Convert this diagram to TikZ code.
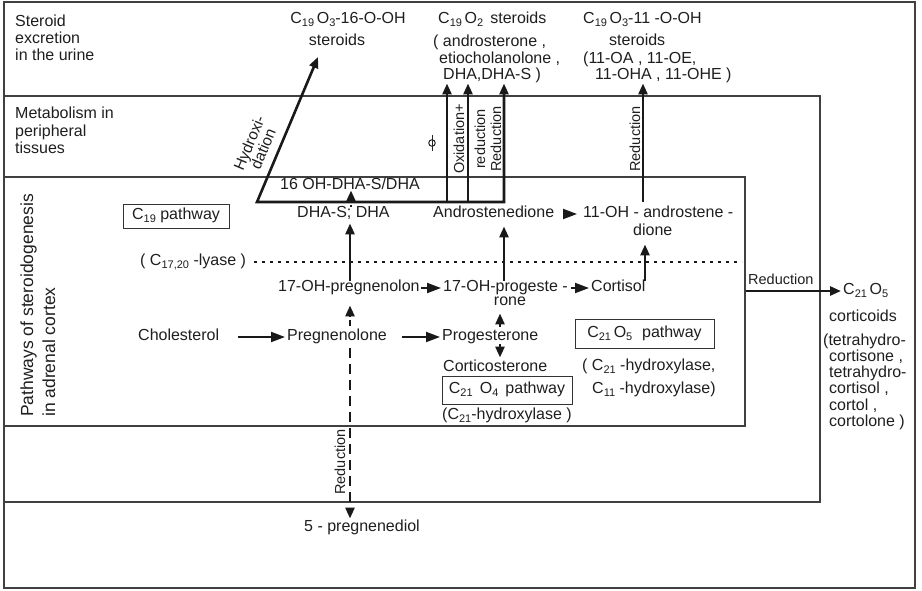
\documentclass[tikz,border=0pt]{standalone}
\usepackage{fontspec}
\setmainfont{Liberation Sans}
\usetikzlibrary{arrows.meta}
\newcommand{\lowsub}[1]{\raisebox{-3pt}{\fontsize{11}{11}\selectfont #1}}
\begin{document}
\begin{tikzpicture}[x=1pt,y=-1pt,
  bt/.style={inner sep=0pt, text=black!88, font=\fontsize{16}{17}\selectfont},
  tx/.style={bt, text height=11pt, text depth=3.5pt, anchor=west},
  pbox/.style={bt, draw=black!80, line width=1pt, text height=11pt, text depth=3.5pt},
  rlab/.style={bt, font=\fontsize{14.5}{15}\selectfont, rotate=90, anchor=base},
  fr/.style={draw=black!75, line width=1.1pt},
  thk/.style={draw=black!90, line width=2.6pt},
  arr/.style={thk, -{Triangle[length=11pt,width=9pt]}},
  hd/.style={draw=black!90, line width=2pt, -{Triangle[length=14pt,width=10pt]}},
  dsh/.style={arr, dash pattern=on 10pt off 6pt},
  dotl/.style={draw=black!90, line width=2.6pt, dash pattern=on 2.6pt off 5.4pt},
]
\fill[white] (0,0) rectangle (922,590);
\useasboundingbox (0,0) rectangle (922,590);
% frames
\draw[fr] (4,2) rectangle (915,588);
\draw[fr] (4,96) -- (820,96) -- (820,502) -- (4,502);
\draw[fr] (4,177) -- (745,177) -- (745,426) -- (4,426);

% band labels
\node[tx] (u1) at (15,23) {Steroid};
\node[tx] (u2) at (15,40) {excretion};
\node[tx] (u3) at (15,57) {in the urine};
\node[tx] (m1) at (15,115) {Metabolism in};
\node[tx] (m2) at (15,133) {peripheral};
\node[tx] (m3) at (15,150) {tissues};
\node[bt, font=\fontsize{17.5}{18}\selectfont, rotate=90, anchor=base west] (pw1) at (33,417) {Pathways of steroidogenesis};
\node[bt, font=\fontsize{17.5}{18}\selectfont, rotate=90, anchor=base west] (pw2) at (55,417) {in adrenal cortex};

% top products
\node[tx, anchor=center] (h16) at (348,20) {C\lowsub{19}\,O\lowsub{3}-16-O-OH};
\node[tx, anchor=center] (s16) at (337,42) {steroids};
\node[tx] (c2t) at (438,20) {C\lowsub{19}\,O\lowsub{2}\, steroids};
\node[tx] (andr) at (433,43) {( androsterone ,};
\node[tx] (etio) at (439,60) {etiocholanolone ,};
\node[tx] (dhal) at (443,76) {DHA,DHA-S )};
\node[tx] (c11t) at (583,20) {C\lowsub{19}\,O\lowsub{3}-11 -O-OH};
\node[tx] (c11s) at (609,42) {steroids};
\node[tx] (c11a) at (583,60) {(11-OA , 11-OE,};
\node[tx] (c11b) at (595,76) {11-OHA , 11-OHE )};

% adrenal contents
\node[tx] (oh16) at (280,186) {16 OH-DHA-S/DHA};
\node[tx] (dhas) at (297,214) {DHA-S; DHA};
\node[pbox, minimum width=106pt, minimum height=24pt] (c19p) at (176,216) {C\lowsub{19} pathway};
\node[tx] (andro) at (433,214) {Androstenedione};
\node[tx] (ohan) at (583,214) {11-OH - androstene -};
\node[tx] (dione) at (633,232) {dione};
\node[tx] (lyase) at (140,262) {( C\lowsub{17,20} -lyase )};
\node[tx] (p17) at (278,288) {17-OH-pregnenolon};
\node[tx] (g17) at (443,288) {17-OH-progeste -};
\node[tx, anchor=center] (rone) at (510,302) {rone};
\node[tx] (cort) at (591,288) {Cortisol};
\node[tx] (chol) at (138,337) {Cholesterol};
\node[tx] (preg) at (287,337) {Pregnenolone};
\node[tx] (prog) at (442,337) {Progesterone};
\node[tx] (ccs) at (443,368) {Corticosterone};
\node[pbox, minimum width=130pt, minimum height=28pt] (c214) at (507,390) {C\lowsub{21}\, O\lowsub{4}\, pathway};
\node[tx] (h21a) at (442,416) {(C\lowsub{21}-hydroxylase )};
\node[pbox, minimum width=139pt, minimum height=29pt] (c215) at (644.5,333.5) {C\lowsub{21}\,O\lowsub{5}\,\, pathway};
\node[tx] (h21b) at (582,367) {( C\lowsub{21} -hydroxylase,};
\node[tx] (h11) at (592,390) {C\lowsub{11} -hydroxylase)};

% right column
\node[tx, font=\fontsize{14.5}{15}\selectfont] (redl) at (748,281) {Reduction};
\node[tx] (c21o5) at (843,291) {C\lowsub{21}\,O\lowsub{5}};
\node[tx] (ctc) at (829,318) {corticoids};
\node[tx] (r1) at (823,342) {(tetrahydro-};
\node[tx] (r2) at (829,358) {cortisone ,};
\node[tx] (r3) at (829,374) {tetrahydro-};
\node[tx] (r4) at (829,390) {cortisol ,};
\node[tx] (r5) at (829,407) {cortol ,};
\node[tx] (r6) at (829,423) {cortolone )};

% bottom
\node[tx, anchor=center] (pdiol) at (362,528) {5 - pregnenediol};
\node[rlab, anchor=center] (rd4) at (340,462) {Reduction};

% rotated labels in metabolism band
\node[bt, font=\fontsize{15.5}{15}\selectfont, align=center, rotate=67.3] (hyd) at (256,146) {Hydroxi-\\dation};
\node[rlab] (ox) at (464,139) {Oxidation+};
\node[rlab] (rd1) at (485,139) {reduction};
\node[rlab] (rd2) at (501,139) {Reduction};
\node[rlab] (rd3) at (640,139) {Reduction};
\node[circle, draw=black!85, line width=1pt, minimum size=6.5pt, inner sep=0pt] (phi) at (432,143) {};
\draw[line width=1pt, draw=black!85] ([yshift=4pt]phi.north) -- ([yshift=-4pt]phi.south);

% coordinates
\coordinate (jl) at (257,202);
\coordinate (jr) at (504,202);
\coordinate (j1) at (447,202);
\coordinate (j2) at (468,202);
\coordinate (j4) at (643,202);
\coordinate (t0) at (318,57);
\coordinate (vx) at (350,0);
\coordinate (dx) at (351,0);
\coordinate (px) at (500,0);
\coordinate (cx) at (645,0);
\coordinate (ds) at (254,262);
\coordinate (de) at (742,262);
\coordinate (rs) at (746,291);

% metabolism arrows
\draw[thk, {Triangle[length=11pt,width=9pt]}-{Triangle[length=11pt,width=9pt]}] (t0) -- (jl) -- (jr) -- (jr |- dhal.south);
\draw[arr] (j1) -- (j1 |- dhal.south);
\draw[arr] (j2) -- (j2 |- dhal.south);
\draw[arr] (j4) -- (j4 |- c11b.south);

% adrenal arrows
\draw[dotl] (ds) -- (de);
\draw[arr, shorten >=2pt] (p17.north -| vx) -- (dhas.south -| vx);
\draw[arr, dash pattern=on 6pt off 3pt, shorten <=4pt, shorten >=10pt] (preg.north -| vx) -- (p17.south -| vx);
\draw[arr, dash pattern=on 6pt off 3pt, shorten <=3pt, shorten >=4pt] (prog.north -| px) -- (rone.south -| px);
\draw[arr, shorten >=3pt] (prog.south -| px) -- (ccs.north -| px);
\draw[arr, shorten >=5pt] (g17.north -| jr) -- (andro.south -| jr);
\draw[arr, shorten >=5pt] (cort.north -| cx) -- (dione.south -| cx);
\draw[arr, dash pattern=on 2pt off 2pt, shorten >=-3pt] (dhas.north -| dx) -- (oh16.south -| dx);
\draw[hd, shorten <=19pt, shorten >=2pt] (chol.east) -- (preg.west);
\draw[hd, shorten <=15pt, shorten >=2pt] (preg.east) -- (prog.west);
\draw[hd, shorten <=1pt, shorten >=2pt] (p17.east) -- (g17.west);
\draw[hd, shorten <=3pt, shorten >=2pt] (g17.east) -- (cort.west);
\draw[hd, shorten <=9pt, shorten >=6pt] (andro.east) -- (ohan.west);
\draw[arr, shorten >=2pt] (rs) -- (c21o5.west);
\draw[dsh, shorten <=4pt, shorten >=2pt] (preg.south -| vx) -- (pdiol.north -| vx);
\end{tikzpicture}
\end{document}
